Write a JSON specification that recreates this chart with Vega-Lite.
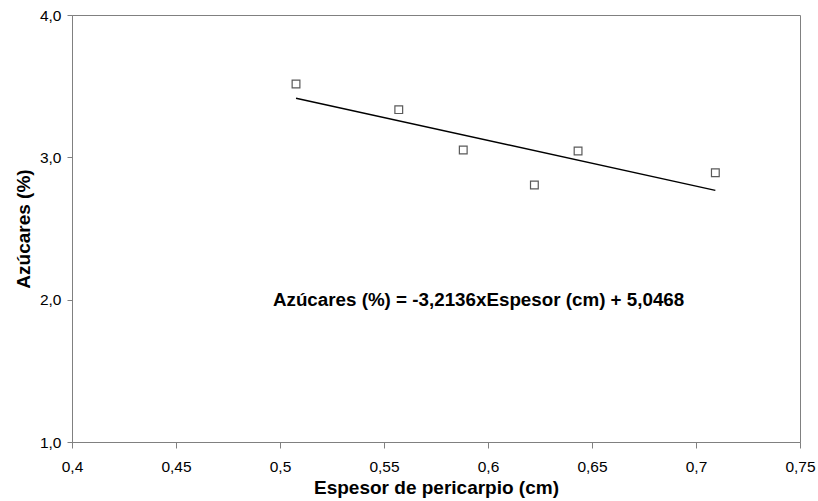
{
  "$schema": "https://vega.github.io/schema/vega-lite/v6.json",
  "width": 728,
  "height": 427,
  "autosize": "none",
  "padding": {"left": 72, "top": 15, "right": 18, "bottom": 59},
  "background": "white",
  "config": {
    "font": "Liberation Sans",
    "view": {"stroke": "#808080", "strokeWidth": 1},
    "axis": {
      "grid": false,
      "domainColor": "#808080",
      "tickColor": "#808080",
      "labelColor": "#000000",
      "titleColor": "#000000",
      "labelFont": "Liberation Sans",
      "titleFont": "Liberation Sans",
      "labelFontSize": 15.5,
      "titleFontSize": 19,
      "titleFontWeight": "bold"
    }
  },
  "datasets": {
    "pts": [
      {"espesor": 0.5077, "azucares": 3.515},
      {"espesor": 0.5571, "azucares": 3.335},
      {"espesor": 0.5881, "azucares": 3.052},
      {"espesor": 0.6223, "azucares": 2.806},
      {"espesor": 0.6433, "azucares": 3.044},
      {"espesor": 0.7093, "azucares": 2.892}
    ],
    "fit": [
      {"espesor": 0.5077, "azucares": 3.4153},
      {"espesor": 0.7093, "azucares": 2.7674}
    ],
    "label": [
      {"espesor": 0.4966, "azucares": 2.0, "texto": "Azúcares (%) = -3,2136xEspesor (cm) + 5,0468"}
    ]
  },
  "encoding": {
    "x": {
      "field": "espesor",
      "type": "quantitative",
      "scale": {"domain": [0.4, 0.75], "nice": false, "zero": false},
      "axis": {
        "title": "Espesor de pericarpio (cm)",
        "values": [0.4, 0.45, 0.5, 0.55, 0.6, 0.65, 0.7, 0.75],
        "labelExpr": "replace(format(datum.value, '~g'), '.', ',')",
        "tickSize": 6,
        "labelPadding": 11,
        "titlePadding": 4,
        "labelFlush": false
      }
    },
    "y": {
      "field": "azucares",
      "type": "quantitative",
      "scale": {"domain": [1, 4], "nice": false, "zero": false},
      "axis": {
        "title": "Azúcares (%)",
        "values": [1, 2, 3, 4],
        "labelExpr": "replace(format(datum.value, '.1f'), '.', ',')",
        "tickSize": 5,
        "labelPadding": 6,
        "titlePadding": 6,
        "labelFlush": false
      }
    }
  },
  "layer": [
    {
      "data": {"name": "fit"},
      "mark": {"type": "line", "color": "#000000", "strokeWidth": 1.4}
    },
    {
      "data": {"name": "pts"},
      "mark": {"type": "point", "shape": "square", "size": 60, "filled": false, "fill": "white", "fillOpacity": 1, "stroke": "#5a5a5a", "strokeWidth": 1.2, "opacity": 1}
    },
    {
      "data": {"name": "label"},
      "mark": {"type": "text", "align": "left", "baseline": "middle", "fontSize": 18.8, "fontWeight": "bold", "font": "Liberation Sans", "color": "#000000"},
      "encoding": {"text": {"field": "texto"}}
    }
  ]
}
